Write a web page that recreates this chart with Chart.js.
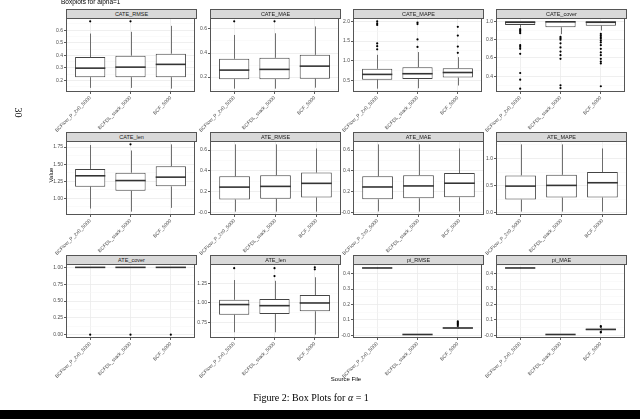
<!DOCTYPE html>
<html>
<head>
<meta charset="utf-8">
<script src="https://cdn.jsdelivr.net/npm/chart.js@4.4.1/dist/chart.umd.min.js"></script>
<style>
  body { margin: 0; width: 640px; height: 419px; background: #fff; position: relative; overflow: hidden; font-family: "Liberation Sans", Arial, sans-serif; }
  .abs { position: absolute; white-space: nowrap; }
  .strip { position: absolute; box-sizing: border-box; height: 10px; background: #d9d9d9; border: 1px solid #555; font-size: 5.5px; color: #1a1a1a; text-align: center; line-height: 8px; }
  canvas { position: absolute; }
</style>
</head>
<body>
<div class="abs" style="left:61px; top:-2px; font-size:6.5px; color:#000;">Boxplots for alpha=1</div>
<div class="abs" style="left:31px; top:172px; width:40px; text-align:center; font-size:6px; transform:rotate(-90deg);">Value</div>
<div class="abs" style="left:306px; top:376px; width:80px; text-align:center; font-size:6px;">Source File</div>
<div class="abs" style="left:211px; top:392px; width:200px; text-align:center; font-family:'Liberation Serif', serif; font-size:10px;">Figure 2: Box Plots for <i>α</i> = 1</div>
<div class="abs" style="left:8px; top:107px; width:20px; text-align:center; font-family:'Liberation Serif', serif; font-size:10px; transform:rotate(90deg);">30</div>
<div class="abs" style="left:0; top:410px; width:640px; height:9px; background:#000;"></div>

<script>
// categories (x) and facets
const sources = ['BCFlow_P_2x0_5000', 'BCFDL_stack_5000', 'BCF_5000'];
const metrics = ['CATE_RMSE', 'CATE_MAE', 'CATE_MAPE', 'CATE_cover',
                 'CATE_len', 'ATE_RMSE', 'ATE_MAE', 'ATE_MAPE',
                 'ATE_cover', 'ATE_len', 'pi_RMSE', 'pi_MAE'];

// box stats per metric, one value per source
const whiskerLow = [
  [0.141, 0.141, 0.135], [0.104, 0.104, 0.112], [0.29, 0.30, 0.37], [0.93, 0.86, 0.90],
  [0.85, 0.805, 0.86], [0.012, 0.012, 0.012], [0.012, 0.010, 0.012], [0.024, 0.024, 0.024],
  [1, 1, 1], [0.63, 0.63, 0.60], [0.432, 0.004, 0.042], [0.433, 0.004, 0.028]
];
const quart1 = [
  [0.226, 0.226, 0.226], [0.183, 0.183, 0.187], [0.518, 0.533, 0.57], [0.96, 0.935, 0.953],
  [1.17, 1.11, 1.175], [0.128, 0.135, 0.147], [0.128, 0.138, 0.147], [0.246, 0.283, 0.283],
  [1, 1, 1], [0.85, 0.86, 0.895], [0.435, 0.005, 0.045], [0.435, 0.005, 0.033]
];
const medians = [
  [0.298, 0.306, 0.328], [0.258, 0.264, 0.291], [0.652, 0.669, 0.70], [0.99, 0.995, 0.99],
  [1.33, 1.26, 1.31], [0.246, 0.253, 0.282], [0.246, 0.256, 0.282], [0.493, 0.506, 0.555],
  [1, 1, 1], [0.98, 0.966, 1.0], [0.437, 0.005, 0.047], [0.437, 0.005, 0.038]
];
const quart3 = [
  [0.386, 0.397, 0.413], [0.352, 0.360, 0.385], [0.795, 0.836, 0.81], [1.0, 1.0, 1.0],
  [1.43, 1.375, 1.47], [0.349, 0.359, 0.385], [0.349, 0.359, 0.38], [0.69, 0.70, 0.75],
  [1, 1, 1], [1.04, 1.05, 1.10], [0.439, 0.006, 0.05], [0.439, 0.006, 0.042]
];
const whiskerHigh = [
  [0.573, 0.587, 0.634], [0.55, 0.564, 0.621], [1.15, 1.22, 1.09], [1, 1, 1],
  [1.78, 1.70, 1.79], [0.654, 0.654, 0.615], [0.654, 0.654, 0.615], [1.26, 1.26, 1.185],
  [1, 1, 1], [1.29, 1.28, 1.325], [0.441, 0.006, 0.055], [0.441, 0.006, 0.05]
];
const outliers = [
  [[0.67], [0.67], []],
  [[0.663], [0.663], []],
  [[1.29, 1.37, 1.44, 1.91, 1.95, 2.0], [1.35, 1.54, 1.93, 1.97], [1.2, 1.36, 1.64, 1.86]],
  [[0.915, 0.9, 0.885, 0.87, 0.74, 0.72, 0.7, 0.645, 0.435, 0.362, 0.264],
   [0.83, 0.815, 0.8, 0.76, 0.715, 0.67, 0.63, 0.59, 0.3, 0.27],
   [0.863, 0.845, 0.827, 0.81, 0.79, 0.77, 0.74, 0.70, 0.66, 0.63, 0.59, 0.56, 0.54, 0.29]],
  [[], [1.79], []],
  [[], [], []],
  [[], [], []],
  [[], [], []],
  [[0], [0], [0]],
  [[1.44], [1.44, 1.34], [1.45, 1.425]],
  [[], [], [0.06, 0.068, 0.075, 0.082, 0.09]],
  [[], [], [0.06, 0.055, 0.022, 0.018]]
];

// y tick labels per facet
const yTicks = [
  [0.2, 0.3, 0.4, 0.5, 0.6], [0.2, 0.4, 0.6], [0.5, 1.0, 1.5, 2.0], [0.4, 0.6, 0.8, 1.0],
  [1.0, 1.25, 1.5, 1.75], [0.0, 0.2, 0.4, 0.6], [0.0, 0.2, 0.4, 0.6], [0.0, 0.5, 1.0],
  [0.0, 0.25, 0.5, 0.75, 1.0], [0.75, 1.0, 1.25], [0.0, 0.1, 0.2, 0.3, 0.4], [0.0, 0.1, 0.2, 0.3, 0.4]
];
const yDecimals = [1, 1, 1, 1, 2, 1, 1, 1, 2, 2, 1, 1];

// layout of the facet grid
const colLeft = [66, 210, 353, 496];
const rowTop = [18, 141, 264];
const panelW = 131, panelH = 74;
const AXW = 26, XH = 46, PADT = 4;

Chart.defaults.font.family = '"Liberation Sans", Arial, sans-serif';

const boxParts = {
  id: 'boxParts',
  beforeDatasetsDraw(chart, args, opts) {
    const i = opts.panel, xs = chart.scales.x, ys = chart.scales.y, ctx = chart.ctx;
    const a = chart.chartArea;
    ctx.save();
    ctx.beginPath(); ctx.rect(a.left, a.top, a.right - a.left, a.bottom - a.top); ctx.clip();
    ctx.strokeStyle = '#4d4d4d';
    ctx.lineWidth = 0.8;
    ctx.beginPath();
    for (let k = 0; k < 3; k++) {
      const px = Math.round(xs.getPixelForValue(k + 1)) + 0.5;
      ctx.moveTo(px, ys.getPixelForValue(whiskerLow[i][k]));
      ctx.lineTo(px, ys.getPixelForValue(quart1[i][k]));
      ctx.moveTo(px, ys.getPixelForValue(quart3[i][k]));
      ctx.lineTo(px, ys.getPixelForValue(whiskerHigh[i][k]));
    }
    ctx.stroke();
    ctx.restore();
  },
  afterDatasetsDraw(chart, args, opts) {
    const i = opts.panel, ys = chart.scales.y, ctx = chart.ctx;
    const bars = chart.getDatasetMeta(0).data;
    ctx.save();
    ctx.strokeStyle = '#333';
    ctx.lineWidth = 1.6;
    bars.forEach((bar, k) => {
      const py = ys.getPixelForValue(medians[i][k]);
      ctx.beginPath();
      ctx.moveTo(bar.x - bar.width / 2, py);
      ctx.lineTo(bar.x + bar.width / 2, py);
      ctx.stroke();
    });
    ctx.restore();
  },
  afterDraw(chart) {
    const a = chart.chartArea, ctx = chart.ctx;
    ctx.save();
    ctx.strokeStyle = '#555';
    ctx.lineWidth = 1;
    ctx.strokeRect(Math.round(a.left) + 0.5, Math.round(a.top) + 0.5,
                   Math.round(a.right - a.left) - 1, Math.round(a.bottom - a.top) - 1);
    ctx.restore();
  }
};

metrics.forEach((name, i) => {
  const col = i % 4, row = Math.floor(i / 4);

  const strip = document.createElement('div');
  strip.className = 'strip';
  strip.style.left = colLeft[col] + 'px';
  strip.style.top = (rowTop[row] - 9) + 'px';
  strip.style.width = panelW + 'px';
  strip.textContent = name;
  document.body.appendChild(strip);

  const canvas = document.createElement('canvas');
  canvas.width = AXW + panelW + 2;
  canvas.height = PADT + panelH + XH;
  canvas.style.left = (colLeft[col] - AXW) + 'px';
  canvas.style.top = (rowTop[row] - PADT) + 'px';
  document.body.insertBefore(canvas, document.body.firstChild);

  const all = [].concat(whiskerLow[i], whiskerHigh[i], ...outliers[i]);
  const lo = Math.min(...all), hi = Math.max(...all);
  const pad = (hi - lo) * 0.05;
  const yMin = lo - pad, yMax = hi + pad;

  const majors = yTicks[i];
  const step = majors[1] - majors[0];
  const ticks = [];
  for (let v = majors[0] - step * 1.5; v <= yMax + 1e-9; v += step / 2) {
    if (v >= yMin - 1e-9) ticks.push(v);
  }
  const isMajor = v => majors.some(m => Math.abs(m - v) < 1e-6);

  const outlierPts = [];
  outliers[i].forEach((arr, k) => arr.forEach(v => outlierPts.push({ x: k + 1, y: v })));

  new Chart(canvas, {
    type: 'bar',
    data: {
      datasets: [
        {
          type: 'bar',
          data: sources.map((s, k) => ({ x: k + 1, y: [quart1[i][k], quart3[i][k]] })),
          backgroundColor: '#ffffff',
          borderColor: '#444',
          borderWidth: 1,
          borderSkipped: false,
          barPercentage: 0.75,
          categoryPercentage: 1,
          order: 2
        },
        {
          type: 'scatter',
          data: outlierPts,
          pointRadius: 1.1,
          backgroundColor: '#000',
          borderWidth: 0,
          order: 1
        }
      ]
    },
    options: {
      responsive: false,
      animation: false,
      layout: { padding: { top: PADT, right: 2, left: 0, bottom: 0 } },
      plugins: {
        legend: { display: false },
        tooltip: { enabled: false },
        boxParts: { panel: i }
      },
      scales: {
        x: {
          type: 'linear',
          offset: false,
          min: 0.4,
          max: 3.6,
          afterBuildTicks: s => { s.ticks = [1, 2, 3].map(v => ({ value: v })); },
          afterFit: s => { s.height = XH; s.paddingLeft = 0; s.paddingRight = 0; },
          ticks: {
            callback: v => sources[v - 1],
            autoSkip: false,
            minRotation: 45,
            maxRotation: 45,
            font: { size: 5 },
            color: '#4d4d4d',
            padding: 1
          },
          grid: { offset: false, color: '#ebebeb', lineWidth: 0.8, tickColor: '#333', tickLength: 2 },
          border: { display: false }
        },
        y: {
          min: yMin,
          max: yMax,
          afterBuildTicks: s => { s.ticks = ticks.map(v => ({ value: v })); },
          afterFit: s => { s.width = AXW; s.paddingTop = 0; s.paddingBottom = 0; },
          ticks: {
            callback: v => isMajor(v) ? v.toFixed(yDecimals[i]) : '',
            autoSkip: false,
            font: { size: 5 },
            color: '#4d4d4d',
            padding: 1
          },
          grid: {
            color: c => isMajor(c.tick.value) ? '#ebebeb' : '#f4f4f4',
            lineWidth: c => isMajor(c.tick.value) ? 0.8 : 0.5,
            tickColor: c => isMajor(c.tick.value) ? '#333' : 'rgba(0,0,0,0)',
            tickLength: 2
          },
          border: { display: false }
        }
      }
    },
    plugins: [boxParts]
  });
});
</script>
</body>
</html>
